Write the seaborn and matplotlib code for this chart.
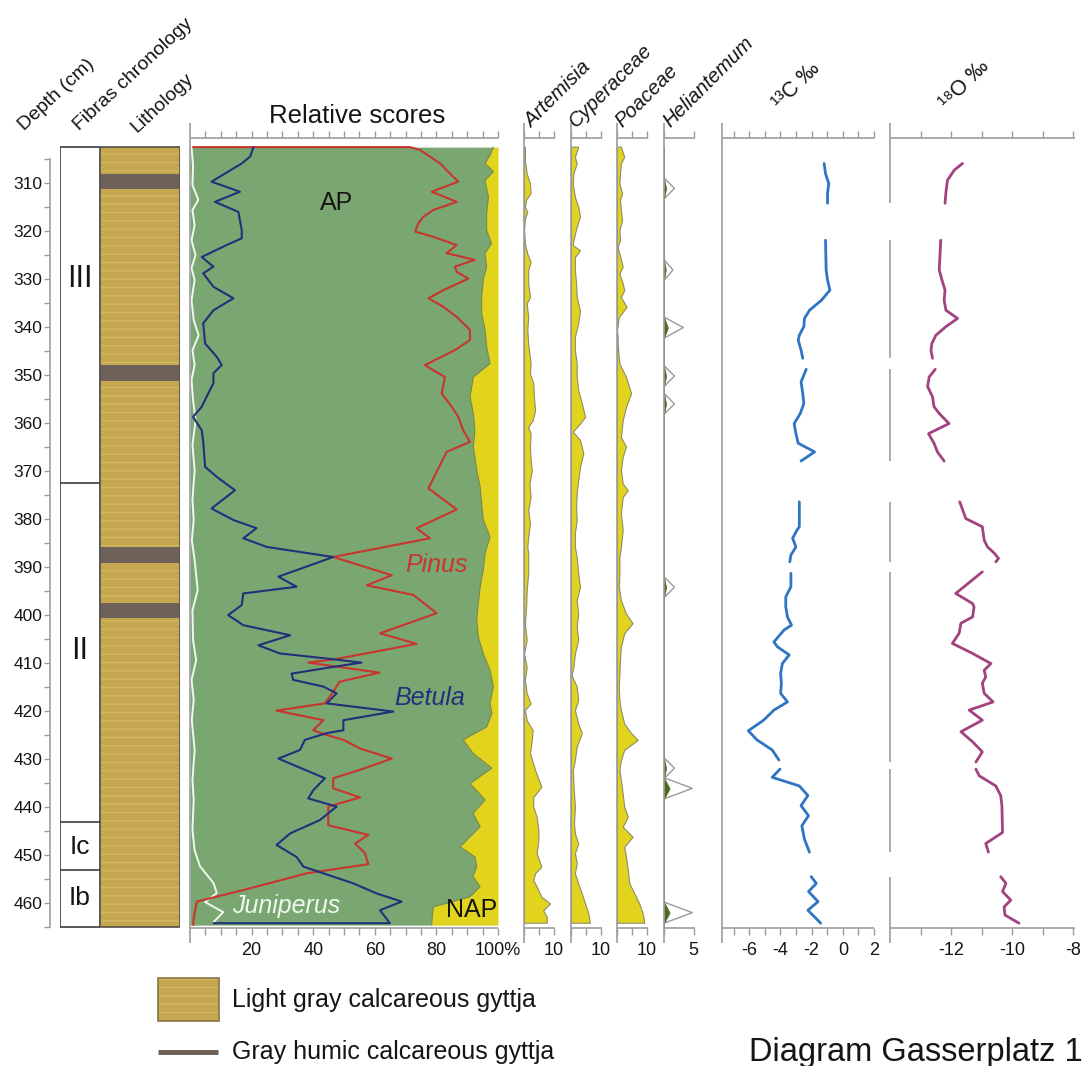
import matplotlib
matplotlib.use("Agg")
import matplotlib.pyplot as plt
import numpy as np
import pandas as pd
import seaborn as sns
from matplotlib.patches import Rectangle
from matplotlib.lines import Line2D

sns.set_theme(style="white")
plt.rcParams["font.family"] = ["Liberation Sans", "DejaVu Sans"]
plt.rcParams["axes.unicode_minus"] = False
plt.rcParams["hatch.linewidth"] = 1.0

# ------------------------------------------------------------------ data
# Core geometry and chronozones (depth in cm)
CORE_TOP, CORE_BOTTOM = 302.5, 465.0
zone_bounds = [372.5, 443.1, 453.1]
zone_labels = ["III", "II", "Ic", "Ib"]
zone_label_depth = [330.0, 407.5, 448.3, 459.0]
humic_bands = [(308.0, 311.3), (348.0, 351.3), (385.9, 389.2), (397.5, 400.6)]

# Arboreal pollen sum (AP, %); the remainder up to 100 % is NAP
ap_depth = [302.5, 304.2, 305.9, 307.6, 309.4, 311.1, 312.9, 316.3, 319.8, 322.6,
            324.6, 327.4, 330.2, 333.7, 337.1, 340.6, 344.1, 347.6, 350.4, 354.5,
            358.0, 361.5, 364.9, 369.8, 373.3, 380.2, 383.7, 387.1, 390.6, 394.1,
            397.6, 401.0, 404.5, 408.0, 411.5, 414.9, 418.4, 420.5, 423.3, 426.0,
            428.8, 431.9, 435.1, 438.5, 441.3, 444.1, 446.2, 448.3, 450.4, 452.4,
            454.5, 456.6, 458.7, 460.8, 463.9, 464.6]
ap_pct = [98.5, 97.4, 95.8, 98.5, 95.8, 96.3, 96.9, 96.3, 96.3, 97.9,
          95.8, 96.3, 95.2, 94.7, 94.7, 95.8, 96.3, 97.4, 92.0, 90.9,
          92.0, 92.5, 92.0, 93.1, 94.2, 95.2, 97.4, 95.8, 95.2, 94.2,
          93.6, 93.1, 93.6, 95.2, 97.4, 98.5, 97.4, 98.0, 96.3, 88.7,
          91.9, 98.0, 90.9, 95.8, 91.9, 94.2, 90.9, 87.7, 92.5, 93.1,
          91.9, 94.2, 90.9, 79.0, 78.5, 78.5]

pinus_depth = [302.5, 302.5, 303.1, 305.9, 308.0, 309.7, 311.8, 313.9, 315.6, 317.0,
               318.4, 320.1, 321.2, 322.9, 324.6, 326.0, 327.4, 328.5, 329.9, 332.3,
               334.0, 335.8, 337.9, 340.6, 342.7, 344.8, 347.9, 349.0, 350.4, 353.8,
               356.6, 358.7, 361.5, 363.9, 366.0, 373.6, 378.0, 381.9, 384.0, 387.9,
               391.7, 393.8, 395.8, 399.6, 403.8, 406.0, 409.2, 409.9, 412.0, 413.9,
               416.0, 418.4, 419.9, 421.9, 424.0, 425.0, 426.0, 427.8, 429.9, 431.9,
               434.0, 436.1, 438.0, 439.9, 443.8, 445.8, 447.6, 449.6, 451.9, 453.8,
               457.3, 459.7, 463.5, 464.6]
pinus_pct = [1.0, 71.4, 74.7, 81.2, 84.4, 87.1, 78.5, 86.6, 79.0, 75.8,
             74.1, 73.1, 79.0, 86.6, 83.3, 92.5, 86.0, 86.6, 90.4, 82.3,
             77.4, 82.3, 86.6, 90.9, 90.9, 86.0, 76.3, 79.0, 82.8, 81.7,
             85.0, 87.1, 88.7, 90.9, 83.3, 77.4, 86.6, 73.6, 77.9, 46.5,
             65.5, 57.4, 72.5, 80.1, 61.7, 73.6, 47.1, 38.4, 61.5, 48.5,
             46.5, 43.8, 28.1, 43.3, 40.0, 44.4, 49.8, 55.2, 65.5, 56.8,
             46.5, 46.5, 55.2, 44.9, 44.9, 57.9, 53.6, 56.8, 57.9, 37.9,
             17.3, 2.2, 1.1, 1.1]

betula_depth = [302.5, 304.5, 305.9, 309.7, 311.8, 313.9, 316.0, 319.8, 321.5, 322.9,
                325.4, 327.4, 328.8, 331.6, 334.0, 336.5, 339.2, 343.4, 346.2, 347.9,
                349.6, 351.7, 354.5, 356.6, 358.7, 361.5, 363.9, 369.1, 371.2, 374.0,
                377.8, 380.2, 381.9, 384.0, 385.8, 387.9, 392.0, 394.1, 395.5, 397.9,
                400.0, 402.1, 404.2, 406.3, 408.0, 409.2, 409.9, 410.9, 412.2, 413.5,
                414.9, 416.3, 418.4, 420.1, 421.9, 424.0, 424.6, 426.0, 428.1, 429.9,
                434.0, 436.5, 438.2, 439.9, 442.7, 445.5, 447.9, 450.4, 452.4, 455.9,
                458.0, 459.7, 461.5, 464.2, 464.2]
betula_pct = [20.6, 19.5, 16.8, 7.0, 16.2, 8.1, 15.7, 16.8, 16.8, 11.9,
              3.8, 7.6, 4.3, 7.6, 14.1, 7.6, 4.3, 4.9, 8.7, 10.3,
              7.6, 7.6, 5.4, 3.8, 1.0, 3.8, 4.3, 4.9, 8.7, 14.6,
              7.0, 14.1, 21.6, 17.3, 24.9, 46.5, 28.7, 34.6, 17.3, 16.8,
              12.4, 17.3, 32.5, 22.2, 29.2, 46.5, 55.7, 45.5, 33.0, 33.5,
              43.3, 47.6, 44.4, 66.0, 49.8, 49.8, 44.4, 37.3, 35.7, 28.7,
              43.8, 40.0, 38.4, 47.6, 42.2, 32.5, 28.1, 34.6, 36.8, 53.0,
              60.6, 68.7, 61.7, 64.9, 7.6]

juniperus_depth = [302.5, 306.3, 310.4, 313.5, 315.6, 318.8, 321.9, 325.0, 327.7, 330.2,
                   334.4, 338.5, 341.7, 344.8, 347.9, 351.0, 355.2, 359.4, 364.6, 369.8,
                   376.0, 380.2, 384.4, 388.5, 394.8, 399.0, 405.2, 409.4, 413.5, 417.7,
                   421.9, 428.1, 434.4, 438.5, 444.8, 449.0, 452.3, 455.8, 457.9, 459.8,
                   461.9, 464.0]
juniperus_pct = [0.5, 1.0, 0.8, 2.7, 0.8, 1.5, 0.5, 1.8, 0.5, 1.5,
                 0.5, 1.2, 2.8, 0.8, 1.5, 0.5, 1.0, 1.8, 0.8, 1.5,
                 0.8, 1.2, 0.6, 1.5, 2.5, 0.8, 1.0, 2.0, 0.5, 1.2,
                 0.6, 1.5, 0.8, 1.2, 0.8, 1.5, 3.2, 7.6, 8.7, 4.9,
                 10.8, 7.6]

artemisia_depth = [302.4, 305.2, 308.0, 310.1, 312.1, 313.5, 314.9, 316.0, 317.4, 319.8,
                   322.6, 324.7, 326.4, 328.1, 330.9, 333.7, 335.1, 337.9, 340.6, 343.4,
                   347.6, 349.7, 351.7, 354.5, 357.3, 359.4, 360.8, 362.2, 364.9, 367.7,
                   369.8, 372.6, 375.4, 378.1, 380.9, 383.7, 385.8, 387.1, 391.3, 394.8,
                   398.3, 401.7, 405.2, 408.0, 410.8, 413.5, 416.3, 418.4, 419.8, 421.9,
                   424.0, 426.0, 428.8, 432.3, 435.8, 437.9, 439.9, 442.0, 444.8, 446.9,
                   449.6, 452.4, 453.8, 455.2, 457.3, 458.7, 460.1, 461.5, 462.9, 464.1]
artemisia_pct = [0.3, 0.3, 0.9, 2.0, 2.2, 0.7, 0.3, 1.1, 0.3, 0.0,
                 0.3, 1.1, 2.2, 1.4, 1.4, 2.0, 0.9, 1.4, 1.1, 1.4,
                 2.2, 2.0, 3.1, 3.3, 3.7, 2.9, 1.4, 2.2, 2.0, 2.2,
                 2.6, 1.8, 2.2, 1.4, 2.0, 1.4, 1.1, 1.4, 1.4, 0.9,
                 0.7, 0.3, 0.9, 0.0, 0.9, 0.3, 0.9, 2.2, 0.3, 0.9,
                 2.9, 2.6, 2.0, 3.7, 5.8, 3.1, 3.1, 4.2, 4.8, 4.8,
                 4.2, 5.8, 3.7, 3.1, 4.8, 5.8, 8.7, 6.4, 7.6, 7.6]

cyperaceae_depth = [302.4, 304.5, 305.9, 308.0, 310.1, 312.9, 314.9, 317.0, 319.1, 321.9,
                    322.9, 324.0, 325.4, 328.1, 330.9, 333.7, 336.5, 339.2, 342.0, 344.8,
                    347.6, 350.4, 353.1, 355.9, 358.7, 360.1, 361.8, 363.5, 366.3, 369.1,
                    371.9, 374.6, 377.4, 380.2, 382.9, 385.8, 387.9, 391.3, 394.1, 396.9,
                    399.7, 402.4, 405.2, 408.0, 410.8, 412.5, 414.9, 417.7, 419.8, 422.6,
                    424.6, 427.4, 430.2, 432.3, 435.1, 437.2, 439.9, 443.4, 445.5, 447.6,
                    449.6, 451.7, 453.8, 455.9, 458.0, 460.1, 462.2, 464.1]
cyperaceae_pct = [2.4, 1.3, 1.9, 0.8, 0.6, 1.3, 2.4, 3.0, 1.9, 0.8,
                  0.6, 3.0, 1.3, 1.3, 1.7, 1.9, 3.0, 2.4, 1.3, 1.3,
                  1.9, 1.9, 2.4, 3.6, 4.7, 3.0, 0.6, 3.0, 4.1, 3.0,
                  2.4, 1.9, 1.7, 1.9, 1.3, 1.3, 1.9, 2.4, 3.0, 1.9,
                  2.4, 1.9, 2.4, 1.3, 0.8, 0.2, 1.9, 2.4, 1.3, 2.4,
                  3.6, 1.9, 1.3, 0.6, 0.8, 1.0, 1.3, 1.0, 1.3, 2.4,
                  1.3, 1.9, 1.3, 2.4, 3.6, 4.7, 5.8, 6.3]

poaceae_depth = [302.4, 304.5, 305.9, 308.0, 310.1, 312.1, 313.5, 315.6, 317.7, 319.8,
                 321.9, 323.3, 325.4, 327.4, 328.8, 330.9, 332.3, 333.7, 335.8, 337.9,
                 340.6, 342.0, 343.4, 347.6, 350.4, 353.8, 356.6, 359.4, 362.9, 364.9,
                 367.0, 369.8, 372.6, 374.0, 375.4, 378.8, 382.3, 385.8, 387.9, 391.3,
                 394.1, 396.9, 399.7, 401.7, 403.8, 406.6, 409.4, 412.2, 414.9, 417.7,
                 419.8, 422.6, 424.6, 426.0, 428.1, 430.2, 432.3, 434.4, 437.2, 439.9,
                 442.0, 444.1, 446.2, 448.3, 450.4, 453.1, 455.9, 458.0, 460.1, 462.2,
                 464.1]
poaceae_pct = [1.3, 2.4, 1.3, 1.0, 0.8, 1.7, 1.0, 1.3, 1.7, 0.8,
               1.0, 0.2, 1.1, 1.9, 0.8, 1.9, 2.4, 1.3, 3.2, 0.6,
               0.0, 0.2, 0.2, 0.8, 3.0, 4.7, 3.0, 1.9, 1.3, 3.0,
               1.9, 1.3, 1.9, 3.6, 1.9, 1.3, 1.9, 1.3, 0.8, 0.8,
               0.6, 1.3, 3.0, 5.2, 2.4, 1.3, 1.0, 0.8, 0.6, 0.8,
               1.3, 2.4, 4.7, 6.9, 2.4, 1.3, 0.8, 1.3, 1.9, 2.4,
               3.6, 1.9, 5.2, 2.4, 3.0, 3.6, 4.1, 5.8, 7.4, 8.6,
               9.1]

# Helianthemum occurrences (sparse counts) and the exaggeration factor
heli_depth = [311.1, 328.1, 340.1, 350.2, 356.0, 394.2, 431.9, 436.1, 462.0]
heli_pct = [0.35, 0.30, 0.65, 0.35, 0.35, 0.35, 0.35, 0.95, 0.95]
HELI_EXAGGERATION = 5
HELI_HALF_SPACING = 2.2

# Stable isotopes, one list per continuous measured section
d13c_depth = [
    [305.9, 308.0, 310.1, 312.1, 314.2],
    [321.9, 328.1, 330.2, 332.3, 334.4, 336.5, 338.2, 339.9, 341.7, 342.7, 344.8, 346.5],
    [348.8, 349.7, 351.4, 353.8, 355.9, 358.0, 360.1, 362.2, 364.2, 366.0, 367.9],
    [376.4, 381.6, 382.3, 384.0, 385.8, 387.5, 388.9],
    [391.3, 394.1, 396.2, 398.3, 400.4, 402.1, 403.1, 405.6, 406.6, 408.3, 410.1,
     412.2, 414.2, 416.3, 418.1, 419.8, 421.9, 424.1, 426.0, 428.1, 430.2],
    [432.1, 433.8, 435.6, 437.6, 439.7, 441.8, 443.9, 446.7, 449.4],
    [454.5, 455.9, 457.6, 459.7, 461.5, 462.9, 464.2],
]
d13c_value = [
    [-1.20, -1.11, -0.90, -0.98, -0.98],
    [-1.11, -1.07, -0.98, -0.83, -1.37, -2.14, -2.46, -2.50, -2.79, -2.86, -2.68, -2.57],
    [-2.35, -2.46, -2.68, -2.57, -2.50, -2.73, -3.12, -3.01, -2.86, -1.81, -2.68],
    [-2.79, -2.79, -2.94, -3.22, -3.01, -3.33, -3.40],
    [-3.33, -3.33, -3.66, -3.66, -3.55, -3.29, -3.77, -4.42, -4.20, -3.44, -3.88,
     -3.99, -3.94, -3.99, -3.55, -4.42, -5.08, -6.06, -5.51, -4.53, -4.10],
    [-4.03, -4.53, -2.79, -2.24, -2.68, -2.20, -2.63, -2.46, -2.14],
    [-2.03, -1.70, -2.20, -1.59, -2.24, -1.81, -1.42],
]
d18o_depth = [
    [305.9, 307.3, 309.4, 311.8, 314.2],
    [321.9, 328.1, 330.2, 332.3, 334.4, 336.5, 338.2, 339.9, 341.7, 343.4, 344.8, 346.5],
    [348.8, 350.4, 352.4, 354.5, 356.6, 358.0, 360.1, 362.2, 364.2, 366.0, 367.9],
    [376.4, 379.9, 381.6, 384.4, 385.8, 387.1, 388.2, 388.9],
    [391.0, 395.5, 397.6, 398.3, 400.4, 401.7, 403.8, 405.9, 408.0, 410.1, 411.5,
     412.9, 414.2, 416.3, 418.1, 419.8, 421.9, 424.3, 426.4, 428.5, 430.6],
    [432.1, 433.5, 435.6, 437.6, 439.7, 445.3, 447.6, 449.4],
    [454.5, 455.9, 457.6, 459.4, 460.8, 462.5, 464.2],
]
d18o_value = [
    [-11.63, -11.90, -12.12, -12.17, -12.20],
    [-12.34, -12.39, -12.30, -12.20, -12.23, -12.17, -11.79, -12.17, -12.50, -12.63, -12.66, -12.61],
    [-12.52, -12.72, -12.77, -12.61, -12.56, -12.39, -12.07, -12.74, -12.56, -12.45, -12.23],
    [-11.72, -11.52, -10.98, -10.92, -10.81, -10.59, -10.45, -10.54],
    [-10.98, -11.85, -11.30, -11.25, -11.30, -11.68, -11.74, -11.96, -11.30, -10.70, -10.92,
     -10.87, -10.98, -10.92, -10.63, -11.41, -10.98, -11.68, -11.30, -10.98, -11.19],
    [-11.19, -11.08, -10.54, -10.38, -10.34, -10.32, -10.87, -10.78],
    [-10.38, -10.21, -10.32, -10.05, -10.27, -10.24, -9.78],
]

# ------------------------------------------------------------------ style
GREEN = "#7aa771"
AP_EDGE = "#7f8d3e"
YELLOW = "#e2d31c"
TAXON_EDGE = "#8d8c6a"
PINUS_RED = "#c8352e"
BETULA_BLUE = "#22307c"
JUNIPERUS_WHITE = "#eef8ee"
HELI_GREEN = "#4f6b1f"
HELI_OUTLINE = "#9a9a9a"
D13C_BLUE = "#2f75c3"
D18O_PURPLE = "#a2437f"
LITH = "#c6a751"
LITH_STRIPE = "#d1b85d"
HUMIC = "#6e6258"
AX_GRAY = "#9d9d9d"
TXT = "#151515"

W, H = 1089, 1066
Y_TOP_PX, Y_BOT_PX = 138, 928
DEPTH_TOP, DEPTH_BOTTOM = 300.6, 465.2
EXT_PX = 15

fig = plt.figure(figsize=(W / 100, H / 100), dpi=100, facecolor="white")


def add_px_axes(x0, x1):
    ax = fig.add_axes([x0 / W, 1 - Y_BOT_PX / H, (x1 - x0) / W, (Y_BOT_PX - Y_TOP_PX) / H])
    ax.set_facecolor("none")
    ax.set_ylim(DEPTH_BOTTOM, DEPTH_TOP)
    for sp in ax.spines.values():
        sp.set_visible(False)
    ax.grid(False)
    return ax


def frame_panel(ax, xlim, major, major_labels, minor, left_line=True):
    ax.set_xlim(*xlim)
    ext = EXT_PX / (Y_BOT_PX - Y_TOP_PX)
    kw = dict(transform=ax.transAxes, color=AX_GRAY, lw=1.2, clip_on=False,
              solid_capstyle="butt")
    ax.plot([0, 1], [0, 0], **kw)
    ax.plot([0, 1], [1, 1], **kw)
    if left_line:
        ax.plot([0, 0], [-ext, 1 + ext], **kw)
    ax.set_xticks(major, major_labels)
    ax.set_xticks(minor, minor=True)
    ax.tick_params(axis="x", which="both", bottom=True, top=True, labelbottom=True,
                   labeltop=False, direction="out", length=5, width=1.0, color=AX_GRAY,
                   labelsize=13, labelcolor=TXT, pad=5)
    ax.tick_params(axis="y", which="both", left=False, right=False, labelleft=False)
    ax.set_xlabel("")
    ax.set_ylabel("")


def fig_text(x, y, s, **kw):
    fig.text(x / W, 1 - y / H, s, color=kw.pop("color", TXT), **kw)


def line(ax, x, y, **kw):
    sns.lineplot(x=x, y=y, sort=False, estimator=None, orient="y", ax=ax,
                 legend=False, **kw)


# ------------------------------------------------- chronology + depth axis
ax_chr = add_px_axes(60, 100)
ax_chr.set_xlim(0, 1)
ax_chr.add_patch(Rectangle((0, CORE_TOP), 1, CORE_BOTTOM - CORE_TOP,
                           facecolor="white", edgecolor="#3d3d3d", lw=1.2))
for b in zone_bounds:
    ax_chr.plot([0, 1], [b, b], color="#3d3d3d", lw=1.2)
for lab, d in zip(zone_labels, zone_label_depth):
    size = 22 if lab in ("III", "II") else 19
    ax_chr.text(0.5, d, lab, ha="center", va="center", fontsize=size, color=TXT)
sp = ax_chr.spines["left"]
sp.set_visible(True)
sp.set_position(("outward", 7.2))
sp.set_bounds(305, CORE_BOTTOM)
sp.set_color(AX_GRAY)
sp.set_linewidth(1.2)
ax_chr.set_yticks(np.arange(310, 461, 10))
ax_chr.set_yticks(np.arange(305, 466, 5), minor=True)
ax_chr.tick_params(axis="y", which="both", left=True, labelleft=True, direction="out",
                   length=4, width=1.0, color=AX_GRAY, labelsize=12.5, labelcolor=TXT,
                   pad=1.5)
ax_chr.tick_params(axis="x", bottom=False, labelbottom=False)

# ------------------------------------------------------------ lithology
ax_lith = add_px_axes(100, 180)
ax_lith.set_xlim(0, 1)
ax_lith.tick_params(axis="both", left=False, bottom=False, labelleft=False, labelbottom=False)
ax_lith.add_patch(Rectangle((0, CORE_TOP), 1, CORE_BOTTOM - CORE_TOP,
                            facecolor=LITH, edgecolor=LITH_STRIPE, hatch="--", lw=0))
for top, bot in humic_bands:
    ax_lith.add_patch(Rectangle((0, top), 1, bot - top, facecolor=HUMIC, lw=0))
ax_lith.add_patch(Rectangle((0, CORE_TOP), 1, CORE_BOTTOM - CORE_TOP,
                            fill=False, edgecolor="#555046", lw=1.2))

# ------------------------------------------------------ relative scores
ax_rel = add_px_axes(190, 498)
ax_rel.fill_betweenx(ap_depth, 0, ap_pct, color=GREEN, lw=0)
ax_rel.fill_betweenx(ap_depth, ap_pct, 100, color=YELLOW, lw=0)
ax_rel.plot(ap_pct, ap_depth, color=AP_EDGE, lw=0.9)
line(ax_rel, juniperus_pct, juniperus_depth, color=JUNIPERUS_WHITE, lw=1.4)
line(ax_rel, pinus_pct, pinus_depth, color=PINUS_RED, lw=1.5)
line(ax_rel, betula_pct, betula_depth, color=BETULA_BLUE, lw=1.5)
rel_minor = [v for v in range(0, 100, 5) if v % 20]
frame_panel(ax_rel, (0, 100), [20, 40, 60, 80, 100], ["20", "40", "60", "80", "100%"],
            rel_minor)
ax_rel.text(47.7, 315.6, "AP", ha="center", va="baseline", fontsize=18, color=TXT)
ax_rel.text(91.5, 462.9, "NAP", ha="center", va="baseline", fontsize=18, color=TXT)
ax_rel.text(80.1, 391.0, "Pinus", ha="center", va="baseline", fontsize=18,
            style="italic", color=PINUS_RED)
ax_rel.text(77.9, 418.7, "Betula", ha="center", va="baseline", fontsize=18,
            style="italic", color=BETULA_BLUE)
ax_rel.text(31.2, 462.1, "Juniperus", ha="center", va="baseline", fontsize=18,
            style="italic", color=JUNIPERUS_WHITE)

# --------------------------------------------------------- single taxa
taxa = [
    ("Artemisia", artemisia_depth, artemisia_pct, 524),
    ("Cyperaceae", cyperaceae_depth, cyperaceae_pct, 571),
    ("Poaceae", poaceae_depth, poaceae_pct, 617),
]
for name, dep, pct, x0 in taxa:
    ax = add_px_axes(x0, x0 + 31)
    ax.fill_betweenx(dep, 0, pct, facecolor=YELLOW, edgecolor=TAXON_EDGE, lw=0.8)
    frame_panel(ax, (0, 31 / 3), [10], ["10"], [0, 5])

# Helianthemum: exaggerated outline with true values filled
heli_d, heli_v = [CORE_TOP], [0.0]
for d, v in zip(heli_depth, heli_pct):
    heli_d += [d - HELI_HALF_SPACING, d, d + HELI_HALF_SPACING]
    heli_v += [0.0, v, 0.0]
heli_d.append(CORE_BOTTOM)
heli_v.append(0.0)
heli_v = np.array(heli_v)
ax_heli = add_px_axes(664, 695)
ax_heli.fill_betweenx(heli_d, 0, heli_v * HELI_EXAGGERATION, facecolor="none",
                      edgecolor=HELI_OUTLINE, lw=1.0)
ax_heli.fill_betweenx(heli_d, 0, heli_v, facecolor=HELI_GREEN, edgecolor=HELI_GREEN, lw=0.5)
frame_panel(ax_heli, (0, 5.2), [5], ["5"], [0])

# ------------------------------------------------------------ isotopes
def iso_frame(depths, values):
    return pd.DataFrame({
        "depth": np.concatenate(depths),
        "value": np.concatenate(values),
        "section": np.concatenate([[i] * len(d) for i, d in enumerate(depths)]),
    })


ax_c = add_px_axes(722, 874)
sns.lineplot(data=iso_frame(d13c_depth, d13c_value), x="value", y="depth", units="section",
             estimator=None, sort=False, orient="y", color=D13C_BLUE, lw=2.0, ax=ax_c,
             legend=False)
frame_panel(ax_c, (-7.75, 2.0), [-6, -4, -2, 0, 2], ["-6", "-4", "-2", "0", "2"],
            [-7, -5, -3, -1, 1])

ax_o = add_px_axes(890, 1075)
sns.lineplot(data=iso_frame(d18o_depth, d18o_value), x="value", y="depth", units="section",
             estimator=None, sort=False, orient="y", color=D18O_PURPLE, lw=2.0, ax=ax_o,
             legend=False)
frame_panel(ax_o, (-14, -7.95), [-12, -10, -8], ["-12", "-10", "-8"], [-13, -11, -9],
            left_line=False)
# the axis line is interrupted where no isotope samples exist
ext_cm = EXT_PX / 4.8
for i, seg in enumerate(d18o_depth):
    top = DEPTH_TOP - ext_cm if i == 0 else seg[0]
    bot = DEPTH_BOTTOM + ext_cm if i == len(d18o_depth) - 1 else seg[-1]
    ax_o.plot([0, 0], [top, bot], transform=ax_o.get_yaxis_transform(), color=AX_GRAY,
              lw=1.2, clip_on=False, solid_capstyle="butt")

# -------------------------------------------------------------- headers
hdr = dict(rotation=43, rotation_mode="anchor", ha="left", va="baseline", fontsize=14)
fig_text(24, 131, "Depth (cm)", **hdr)
fig_text(79, 131, "Fibras chronology", **hdr)
fig_text(137, 133, "Lithology", **hdr)
fig_text(357, 123, "Relative scores", ha="center", va="baseline", fontsize=18.5)
sp_hdr = dict(rotation=45, rotation_mode="anchor", ha="left", va="baseline",
              fontsize=14.5, style="italic")
for name, x in [("Artemisia", 532), ("Cyperaceae", 576), ("Poaceae", 622),
                ("Heliantemum", 670)]:
    fig_text(x, 128, name, **sp_hdr)
iso_hdr = dict(rotation=45, rotation_mode="anchor", ha="left", va="baseline", fontsize=15.5)
fig_text(780, 110, "¹³C ‰", **iso_hdr)
fig_text(947, 110, "¹⁸O ‰", **iso_hdr)

# --------------------------------------------------------------- legend
fig.add_artist(Rectangle((158 / W, 1 - 1021 / H), 61 / W, 43 / H, transform=fig.transFigure,
                         facecolor=LITH, edgecolor=LITH_STRIPE, hatch="--", lw=0))
fig.add_artist(Rectangle((158 / W, 1 - 1021 / H), 61 / W, 43 / H, transform=fig.transFigure,
                         fill=False, edgecolor="#857547", lw=1.2))
fig_text(232, 1000, "Light gray calcareous gyttja", ha="left", va="center", fontsize=18)
fig.add_artist(Line2D([158 / W, 218 / W], [1 - 1052 / H] * 2, transform=fig.transFigure,
                      color=HUMIC, lw=3.6, solid_capstyle="butt"))
fig_text(232, 1052, "Gray humic calcareous gyttja", ha="left", va="center", fontsize=18)
fig_text(749, 1061, "Diagram Gasserplatz 1", ha="left", va="baseline", fontsize=23.5)

fig.savefig("out.png", dpi=100, facecolor="white")
